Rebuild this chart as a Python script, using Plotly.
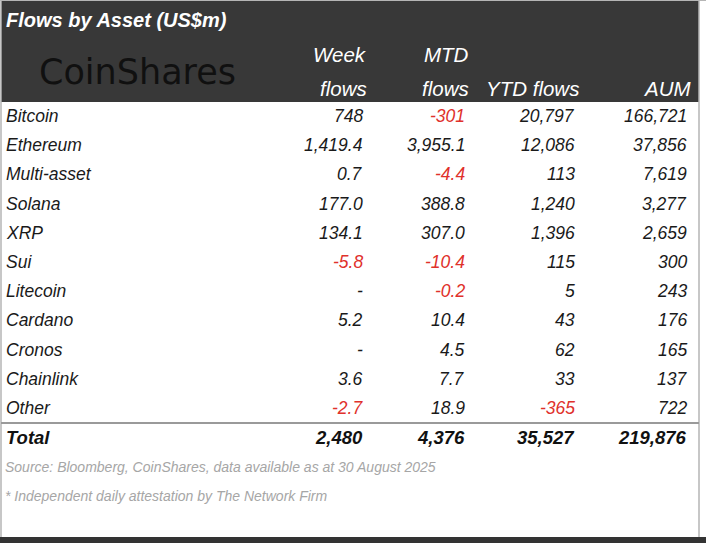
import plotly.graph_objects as go

# table content, as printed in the reference
assets = ["Bitcoin", "Ethereum", "Multi-asset", "Solana", "XRP", "Sui",
          "Litecoin", "Cardano", "Cronos", "Chainlink", "Other"]
week_flows = ["748", "1,419.4", "0.7", "177.0", "134.1", "-5.8", "-",
              "5.2", "-", "3.6", "-2.7"]
mtd_flows = ["-301", "3,955.1", "-4.4", "388.8", "307.0", "-10.4", "-0.2",
             "10.4", "4.5", "7.7", "18.9"]
ytd_flows = ["20,797", "12,086", "113", "1,240", "1,396", "115", "5",
             "43", "62", "33", "-365"]
aum = ["166,721", "37,856", "7,619", "3,277", "2,659", "300", "243",
       "176", "165", "137", "722"]
totals = ["2,480", "4,376", "35,527", "219,876"]

title = "Flows by Asset (US$m)"
headers = [("Week", "flows"), ("MTD", "flows"), ("", "YTD flows"), ("", "AUM")]
source = "Source: Bloomberg, CoinShares, data available as at 30 August 2025"
footnote = "* Independent daily attestation by The Network Firm"

W, H = 706, 543
BODY = "Liberation Sans, Arial, sans-serif"
RED = "#e0312b"
INK = "#1a1a1a"
HEAD_BG = "#383838"

row0, row_h = 116, 29.2
col_right = [365, 467, 577, 689]
name_x = 4

rows_y = [row0 + i * row_h for i in range(len(assets))]
total_y = row0 + len(assets) * row_h


def cell_color(s):
    return RED if s.startswith("-") and len(s) > 1 else INK


def cell(x, y, text, anchor, size, color, bold=False):
    t = f"<i>{text}</i>"
    if bold:
        t = f"<b>{t}</b>"
    return dict(x=x, y=y, xref="x", yref="y", text=t, showarrow=False,
                xanchor=anchor, yanchor="middle",
                font=dict(family=BODY, size=size, color=color, style="italic",
                          weight="bold" if bold else "normal"))


fig = go.Figure()
# an invisible trace so the axes exist
fig.add_trace(go.Scatter(x=[0, W], y=[0, H], mode="markers",
                         marker=dict(opacity=0), hoverinfo="skip",
                         showlegend=False))

annotations = []
for y, name in zip(rows_y, assets):
    annotations.append(cell(name_x, y, name, "left", 17.5, INK))
for xr, col in zip(col_right, [week_flows, mtd_flows, ytd_flows, aum]):
    for y, v in zip(rows_y, col):
        annotations.append(cell(xr, y, v, "right", 17.5, cell_color(v)))

annotations.append(cell(name_x, total_y, "Total", "left", 18.5, "#111111", True))
for xr, t in zip(col_right, totals):
    annotations.append(cell(xr, total_y, t, "right", 18.5, "#111111", True))

# header
annotations.append(cell(4, 20, title, "left", 20, "white", True))
annotations.append(dict(x=137, y=72, xref="x", yref="y", text="CoinShares",
                        showarrow=False, xanchor="center", yanchor="middle",
                        font=dict(family="DejaVu Sans", size=35, color="#101010")))
for xr, (top, bottom) in zip(col_right, headers):
    for label, yy in [(top, 54), (bottom, 88)]:
        if label:
            annotations.append(cell(xr + 4, yy, label, "right", 20.5, "white"))

# notes
annotations.append(cell(3, 467, source, "left", 14, "#a6a6a6"))
annotations.append(cell(3, 496, footnote, "left", 14, "#a6a6a6"))

# frame, header band, separators
shapes = [
    dict(type="rect", x0=1, x1=699, y0=1, y1=102, fillcolor=HEAD_BG,
         line=dict(width=0), layer="below"),
    dict(type="line", x0=1, x1=1, y0=0, y1=H, line=dict(color="#b5b5b5", width=1.5)),
    dict(type="line", x0=699, x1=699, y0=0, y1=H, line=dict(color="#b5b5b5", width=1.5)),
    dict(type="line", x0=0, x1=W, y0=0.5, y1=0.5, line=dict(color="#b5b5b5", width=1)),
    dict(type="line", x0=1, x1=699, y0=423, y1=423, line=dict(color="#9a9a9a", width=2)),
    dict(type="rect", x0=0, x1=W, y0=537, y1=H, fillcolor="#333333",
         line=dict(width=0)),
]

fig.update_layout(
    width=W, height=H,
    margin=dict(l=0, r=0, t=0, b=0),
    paper_bgcolor="white", plot_bgcolor="white",
    xaxis=dict(range=[0, W], visible=False, fixedrange=True),
    yaxis=dict(range=[H, 0], visible=False, fixedrange=True),
    shapes=shapes, annotations=annotations,
)

fig.write_html("out.html", config={"displayModeBar": False})

# drop the browser's default page margin so the chart sits at 0,0
with open("out.html", encoding="utf-8") as f:
    page = f.read()
page = page.replace("<body>", '<body style="margin:0;overflow:hidden">', 1)
with open("out.html", "w", encoding="utf-8") as f:
    f.write(page)
